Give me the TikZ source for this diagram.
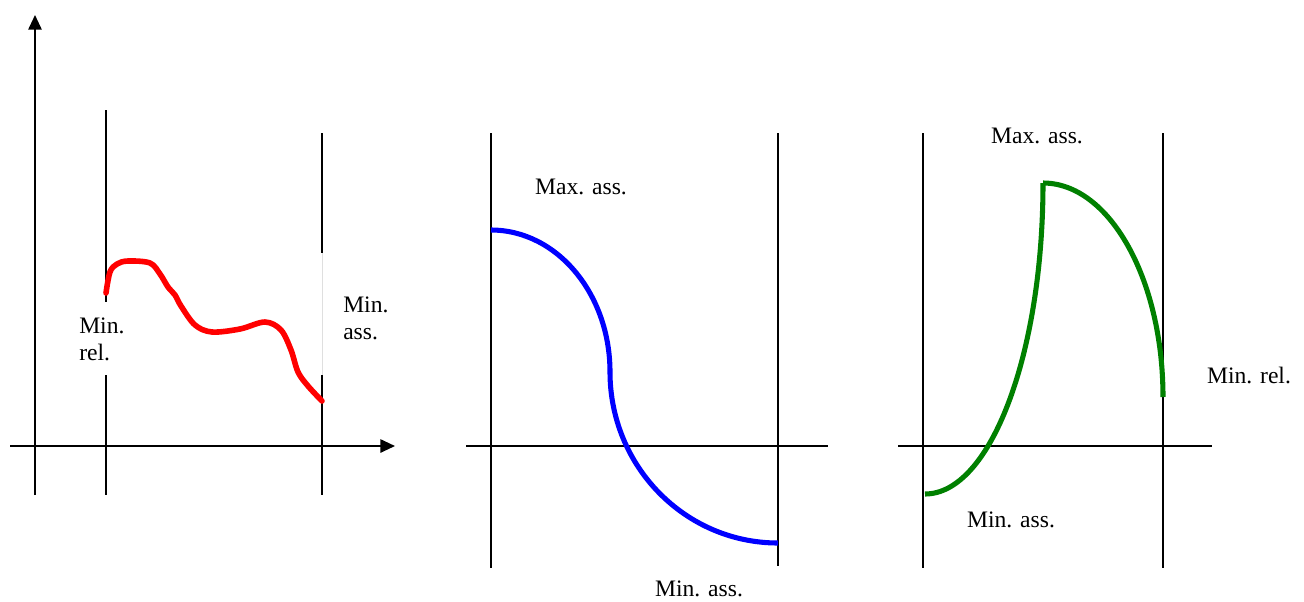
\documentclass[tikz,border=0pt]{standalone}
\usepackage{fontspec}
\setmainfont{Liberation Serif}
\usetikzlibrary{arrows.meta}
\begin{document}
\begin{tikzpicture}[x=0.75pt,y=-0.75pt,
  axis/.style={line width=1.4pt,-{Triangle[length=11pt,width=10pt]}},
  rule/.style={line width=1.4pt},
  curve/.style={line width=3.8pt,line cap=round,line join=round},
  lbl/.style={font=\fontsize{17.7}{20}\selectfont,inner sep=0pt,align=left}]
\useasboundingbox (0,0) rectangle (1304,601);
% ---- panel 1
\draw[axis] (35,495) -- (35,15);
\draw[axis] (10,446) -- (395,446);
\draw[rule] (106,110) -- (106,302);
\draw[rule] (106,375) -- (106,495);
\draw[rule] (322,133) -- (322,253);
\draw[gray!25,line width=0.6pt] (322,253) -- (322,375);
\draw[rule] (322,375) -- (322,495);
\draw[curve,red,line width=4.2pt] plot[smooth,tension=0.55] coordinates {(106,293) (110,272) (117,264) (128,261) (150,263) (160,274) (168,287) (175,295) (181,306) (195,325) (212,332) (240,329) (265,322) (281,330) (291,350) (298,372) (308,386) (322,401)};
\node[lbl,anchor=north west] (p1rel) at (79,318) {Min.\\rel.};
\node[lbl,anchor=north west] (p1ass) at (343,297) {Min.\\ass.};
% ---- panel 2
\draw[rule] (491,133) -- (491,568);
\draw[rule] (778,133) -- (778,566);
\draw[rule] (466,446) -- (828,446);
\draw[curve,blue,line cap=butt] (491,230) arc[start angle=-90,end angle=0,x radius=119,y radius=142]
  arc[start angle=180,end angle=90,x radius=168,y radius=171];
\node[lbl] (p2max) at (581,187) {Max. ass.};
\node[lbl] (p2min) at (699,589) {Min. ass.};
% ---- panel 3
\draw[rule] (923,133) -- (923,568);
\draw[rule] (1163,133) -- (1163,568);
\draw[rule] (898,446) -- (1212,446);
\draw[curve,green!50!black,line cap=butt] (925,494) arc[start angle=90,end angle=0,x radius=118,y radius=311];
\draw[curve,green!50!black,line cap=butt] (1043,183) arc[start angle=-90,end angle=0,x radius=120,y radius=214];
\node[lbl] (p3max) at (1037,136) {Max. ass.};
\node[lbl] (p3rel) at (1249,375) {Min. rel.};
\node[lbl] (p3min) at (1011,520) {Min. ass.};
\end{tikzpicture}
\end{document}
